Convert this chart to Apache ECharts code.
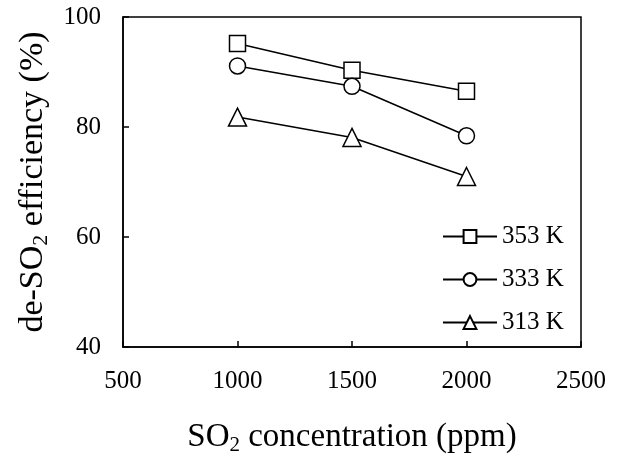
<!DOCTYPE html>
<html>
<head>
<meta charset="utf-8">
<script src="https://cdn.jsdelivr.net/npm/echarts@6/dist/echarts.min.js"></script>
<style>
    html, body { margin: 0; padding: 0; background: #fff; }
    #chart { width: 639px; height: 461px; }
</style>
</head>
<body>
<div id="chart"></div>
<script>
const concentrations = [1000, 1500, 2000];
const eff353 = [95.2, 90.3, 86.5];
const eff333 = [91.1, 87.4, 78.4];
const eff313 = [81.8, 78.1, 71.0];
const seriesNames = ['353 K', '333 K', '313 K'];

(function () {
    const chart = echarts.init(document.getElementById('chart'));
    const font = '"Liberation Serif", "Times New Roman", serif';

    function pairs(values) {
        return concentrations.map(function (c, i) { return [c, values[i]]; });
    }

    function makeSeries(name, values, symbol, size) {
        return {
            name: name,
            type: 'line',
            data: pairs(values),
            symbol: symbol,
            symbolSize: size,
            lineStyle: { color: '#000', width: 1.5 },
            itemStyle: { color: '#fff', borderColor: '#000', borderWidth: 1.5 },
            emphasis: { disabled: true }
        };
    }

    const option = {
        animation: false,
        backgroundColor: '#fff',
        grid: {
            left: 123, right: 58, top: 17, bottom: 114,
            show: true, borderColor: '#000', borderWidth: 1.5
        },
        legend: {
            orient: 'vertical',
            left: 437, top: 219,
            itemWidth: 54, itemHeight: 16, itemGap: 18,
            textStyle: { fontFamily: font, fontSize: 25, color: '#000' },
            data: seriesNames
        },
        xAxis: {
            type: 'value',
            min: 500, max: 2500, interval: 500,
            name: 'SO{sub|2} concentration (ppm)',
            nameLocation: 'middle',
            nameGap: 71,
            nameTextStyle: {
                fontFamily: font, fontSize: 33, color: '#000',
                rich: { sub: { fontFamily: font, fontSize: 21, color: '#000', padding: [17, 0, 0, 0] } }
            },
            axisLine: { lineStyle: { color: '#000', width: 1.5 } },
            axisTick: { inside: true, length: 6, lineStyle: { color: '#000', width: 1.5 } },
            axisLabel: {
                fontFamily: font, fontSize: 25, color: '#000', margin: 22,
                formatter: function (v) { return String(v); }
            },
            splitLine: { show: false }
        },
        yAxis: {
            type: 'value',
            min: 40, max: 100, interval: 20,
            name: 'de-SO{sub|2} efficiency (%)',
            nameLocation: 'middle',
            nameGap: 70,
            nameTextStyle: {
                fontFamily: font, fontSize: 34, color: '#000',
                rich: { sub: { fontFamily: font, fontSize: 22, color: '#000', padding: [17, 0, 0, 0] } }
            },
            axisLine: { lineStyle: { color: '#000', width: 1.5 } },
            axisTick: { inside: true, length: 6, lineStyle: { color: '#000', width: 1.5 } },
            axisLabel: { fontFamily: font, fontSize: 25, color: '#000', margin: 22 },
            splitLine: { show: false }
        },
        series: [
            makeSeries(seriesNames[0], eff353, 'rect', 16),
            makeSeries(seriesNames[1], eff333, 'circle', 16),
            makeSeries(seriesNames[2], eff313, 'triangle', 18)
        ]
    };

    chart.setOption(option);
})();
</script>
</body>
</html>
